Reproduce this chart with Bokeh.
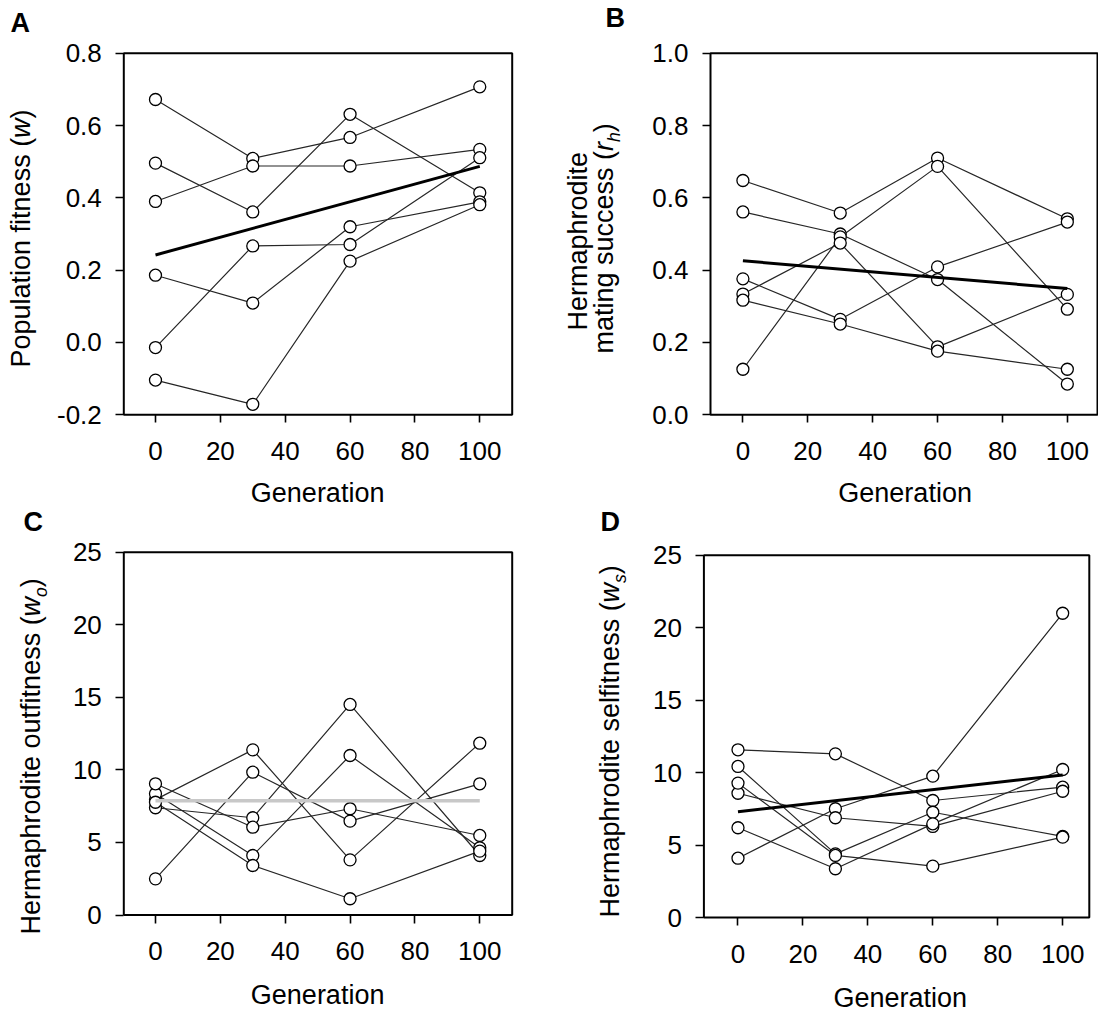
import math
from bokeh.plotting import figure
from bokeh.layouts import column, row
from bokeh.models import Label, FixedTicker, NumeralTickFormatter, Range1d, BoxAnnotation
from bokeh.embed import file_html
from bokeh.resources import INLINE

# ---------------- data ----------------
generation = [0, 30, 60, 100]
gen_ticks = [0, 20, 40, 60, 80, 100]

# A: population fitness (w), one list per line
fitness_w = [
    [0.672, 0.509, 0.567, 0.707],
    [0.496, 0.361, 0.631, 0.414],
    [0.390, 0.488, 0.488, 0.534],
    [0.186, 0.109, 0.320, 0.389],
    [-0.014, 0.267, 0.271, 0.511],
    [-0.104, -0.171, 0.225, 0.381],
]
# B: hermaphrodite mating success (r_h)
mating_rh = [
    [0.648, 0.558, 0.710, 0.542],
    [0.561, 0.500, 0.374, 0.085],
    [0.126, 0.492, 0.687, 0.292],
    [0.334, 0.475, 0.188, 0.333],
    [0.376, 0.264, 0.409, 0.533],
    [0.317, 0.251, 0.176, 0.126],
]
# C: hermaphrodite outfitness (w_o)
outfit_wo = [
    [2.49, 9.84, 6.47, 9.04],
    [7.95, 11.38, 3.80, 11.84],
    [7.39, 6.70, 14.51, 4.10],
    [8.35, 4.10, 10.99, 4.63],
    [9.04, 6.05, 7.32, 5.48],
    [7.77, 3.41, 1.12, 4.40],
]
# D: hermaphrodite selfitness (w_s)
selfit_ws = [
    [11.58, 11.30, 8.08, 9.00],
    [4.10, 7.51, 9.76, 21.0],
    [8.58, 6.89, 6.29, 8.72],
    [10.43, 4.40, 7.27, 5.60],
    [9.28, 4.29, 3.55, 5.55],
    [6.20, 3.37, 6.47, 10.22],
]
trend_x = [0, 100]
trend_a = [0.242, 0.487]
trend_b = [0.426, 0.349]
trend_c = [7.88, 7.88]
trend_d = [7.31, 9.84]

ticks_a = [-0.2, 0.0, 0.2, 0.4, 0.6, 0.8]
ticks_b = [0.0, 0.2, 0.4, 0.6, 0.8, 1.0]
ticks_cd = [0, 5, 10, 15, 20, 25]

# ---------------- styling helpers ----------------
FONT = "Liberation Sans"
TICK_SIZE = 26
TITLE_SIZE = 27
BASE_SHIFT = 0.38  # correction for where the label baseline is drawn (em)

ARIAL = {' ': 0.278, '(': 0.333, ')': 0.333, 'H': 0.722, 'P': 0.667, 'a': 0.556,
         'c': 0.5, 'd': 0.556, 'e': 0.556, 'f': 0.278, 'g': 0.556, 'h': 0.556,
         'i': 0.222, 'l': 0.222, 'm': 0.833, 'n': 0.556, 'o': 0.556, 'p': 0.556,
         'r': 0.333, 's': 0.5, 't': 0.278, 'u': 0.556, 'w': 0.722}


def text_width(s, size):
    return sum(ARIAL.get(ch, 0.556) for ch in s) * size


def make_panel(g, box, yticks, yfmt):
    """g: figure placement on the page; box: (x_lo, x_hi, y_lo, y_hi) of the
    framed data box, g['px'] = (L, R, T, B) its pixel position on the page."""
    x_lo, x_hi, y_lo, y_hi = box
    L, R, T, B = g["px"]
    sx = (R - L) / (x_hi - x_lo)
    sy = (B - T) / (y_hi - y_lo)
    xr = (x_lo - (L - g["x0"]) / sx, x_hi + (g["x0"] + g["W"] - R) / sx)
    yr = (y_lo - (g["y0"] + g["H"] - B) / sy, y_hi + (T - g["y0"]) / sy)
    p = figure(width=g["W"], height=g["H"],
               x_range=Range1d(*xr), y_range=Range1d(*yr),
               output_backend="svg", toolbar_location=None,
               min_border=0, min_border_left=0, min_border_right=0,
               min_border_top=0, min_border_bottom=0)
    p.xgrid.visible = False
    p.ygrid.visible = False
    p.background_fill_color = "white"
    p.border_fill_color = "white"
    p.outline_line_color = None
    p.xaxis.fixed_location = y_lo
    p.yaxis.fixed_location = x_lo
    for ax in (p.xaxis[0], p.yaxis[0]):
        ax.axis_line_color = None
        ax.major_tick_line_color = "black"
        ax.major_tick_line_width = 1.6
        ax.major_tick_out = 8
        ax.major_tick_in = 0
        ax.minor_tick_line_color = None
        ax.major_label_text_font = FONT
        ax.major_label_text_font_size = f"{TICK_SIZE}px"
        ax.major_label_text_color = "black"
    p.xaxis.major_label_standoff = 19
    p.yaxis.major_label_standoff = 14
    p.xaxis.ticker = FixedTicker(ticks=gen_ticks)
    p.yaxis.ticker = FixedTicker(ticks=yticks)
    p.yaxis.formatter = NumeralTickFormatter(format=yfmt)
    p.add_layout(BoxAnnotation(left=x_lo, right=x_hi, bottom=y_lo, top=y_hi,
                               fill_color=None, fill_alpha=0,
                               line_color="black", line_width=2, line_alpha=1))
    return p


def to_screen(g, px, py):
    """page pixel -> screen units of the (whole-figure) frame"""
    return px - g["x0"], (g["y0"] + g["H"]) - py


def add_series(p, series, trend, trend_color, trend_width):
    xs = [generation] * len(series)
    p.multi_line(xs, series, line_color="#262626", line_width=1.2)
    fx = [x for s in series for x in generation]
    fy = [v for s in series for v in s]
    p.scatter(fx, fy, marker="circle", size=12, fill_color="white",
              line_color="black", line_width=1.3)
    p.line(trend_x, trend, line_color=trend_color, line_width=trend_width)


def add_ytitle(p, g, pieces, base_x, start_y, size=TITLE_SIZE):
    y = start_y
    for txt, italic, sub in pieces:
        fs = size * 0.65 if sub else size
        dx = 0.22 * size if sub else 0.0
        sx, sy = to_screen(g, base_x + dx - BASE_SHIFT * fs, y)
        p.add_layout(Label(x=sx, y=sy, x_units="screen", y_units="screen",
                           text=txt, angle=math.pi / 2, text_align="left",
                           text_baseline="alphabetic", text_font=FONT,
                           text_font_size=f"{fs:.1f}px", text_color="black",
                           text_font_style="italic" if italic else "normal"))
        y -= text_width(txt, fs)


def add_letter(p, g, letter, px, py):
    sx, sy = to_screen(g, px, py - BASE_SHIFT * 27)
    p.add_layout(Label(x=sx, y=sy, x_units="screen", y_units="screen",
                       text=letter, text_align="left", text_baseline="alphabetic",
                       text_font=FONT, text_font_size="27px",
                       text_font_style="bold", text_color="black"))


def add_xtitle(p, g, py):
    _, sy = to_screen(g, 0, py - BASE_SHIFT * TITLE_SIZE)
    p.add_layout(Label(x=50, y=sy, x_units="data", y_units="screen",
                       text="Generation", text_align="center",
                       text_baseline="alphabetic", text_font=FONT,
                       text_font_size=f"{TITLE_SIZE}px", text_color="black"))


# ---------------- panel placement (page pixels) ----------------
gA = dict(x0=0, y0=0, W=550, H=508, px=(123.3, 511.7, 52.7, 414.3))
gB = dict(x0=550, y0=0, W=548, H=508, px=(710.0, 1097.0, 52.7, 414.3))
gC = dict(x0=0, y0=508, W=550, H=510, px=(123.3, 511.7, 551.7, 914.5))
gD = dict(x0=550, y0=508, W=548, H=510, px=(703.4, 1088.8, 554.8, 917.1))

# A
pA = make_panel(gA, (-9.77, 110.0, -0.2, 0.8), ticks_a, "0.0")
add_series(pA, fitness_w, trend_a, "black", 3)
add_ytitle(pA, gA, [("Population fitness (", False, False), ("w", True, False),
                    (")", False, False)], 31, 367)
add_letter(pA, gA, "A", 10, 33)
add_xtitle(pA, gA, 503)

# B
pB = make_panel(gB, (-9.99, 109.3, 0.0, 1.0), ticks_b, "0.0")
add_series(pB, mating_rh, trend_b, "black", 3)
add_ytitle(pB, gB, [("Hermaphrodite", False, False)], 588, 330)
add_ytitle(pB, gB, [("mating success (", False, False), ("r", True, False),
                    ("h", True, True), (")", False, False)], 614, 353)
add_letter(pB, gB, "B", 605, 28)
add_xtitle(pB, gB, 503)

# C
pC = make_panel(gC, (-9.77, 110.0, 0, 25), ticks_cd, "0")
add_series(pC, outfit_wo, trend_c, "#c8c8c8", 3.5)
add_ytitle(pC, gC, [("Hermaphrodite outfitness (", False, False), ("w", True, False),
                    ("o", True, True), (")", False, False)], 41, 934)
add_letter(pC, gC, "C", 23, 532)
add_xtitle(pC, gC, 1005)

# D
pD = make_panel(gD, (-10.5, 108.2, 0, 25), ticks_cd, "0")
add_series(pD, selfit_ws, trend_d, "black", 3)
add_ytitle(pD, gD, [("Hermaphrodite selfitness (", False, False), ("w", True, False),
                    ("s", True, True), (")", False, False)], 620, 917)
add_letter(pD, gD, "D", 600, 532)
add_xtitle(pD, gD, 1008)

layout = column(row(pA, pB), row(pC, pD))

open("out.html", "w").write(file_html(layout, INLINE))
